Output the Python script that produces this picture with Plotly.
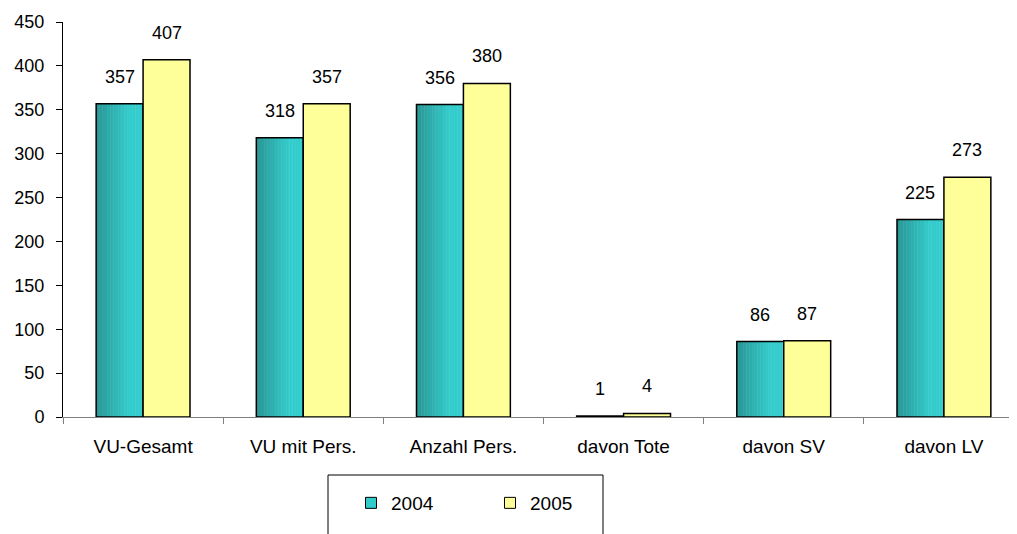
import plotly.graph_objects as go

categories = ["VU-Gesamt", "VU mit Pers.", "Anzahl Pers.", "davon Tote", "davon SV", "davon LV"]
values_2004 = [357, 318, 356, 1, 86, 225]
values_2005 = [407, 357, 380, 4, 87, 273]
y_ticks = [0, 50, 100, 150, 200, 250, 300, 350, 400, 450]

FONT = "Liberation Sans, Arial, sans-serif"
BAR_W = 0.293
YELLOW = "#ffff99"
TEAL = "#33cccc"

# page has an 8px body margin, so figure coords = page coords - 8
PAGE_OFF = 8
W, H = 1017, 534
L, R, T, B = 55, 1, 14, 125
PW = W - L - R
PH = H - T - B


def px_x(p):
    return (p - PAGE_OFF - L) / PW


def px_y(p):
    return (H - B - (p - PAGE_OFF)) / PH


def teal_shade(t):
    # horizontal gradient: darker on the left, light teal on the right
    t = min(t / 0.7, 1.0)
    c0, c1 = (40, 150, 148), (52, 204, 204)
    r, g, b = (round(a + (b_ - a) * t) for a, b_ in zip(c0, c1))
    return f"rgb({r},{g},{b})"


fig = go.Figure()

# 2004 bars drawn as thin slices to mimic the gradient fill
n_slices = 30
for k in range(n_slices):
    fig.add_trace(go.Bar(
        x=categories, y=values_2004,
        width=BAR_W / n_slices + 0.003,
        offset=-BAR_W + k * BAR_W / n_slices,
        marker=dict(color=teal_shade((k + 0.5) / n_slices), line=dict(width=0)),
        showlegend=False, hoverinfo="skip",
    ))
# outline of 2004 bars
fig.add_trace(go.Bar(
    x=categories, y=values_2004, width=BAR_W, offset=-BAR_W,
    marker=dict(color="rgba(0,0,0,0)", line=dict(color="black", width=1.5)),
    showlegend=False, name="2004",
))
fig.add_trace(go.Bar(
    x=categories, y=values_2005, width=BAR_W, offset=0,
    marker=dict(color=YELLOW, line=dict(color="black", width=1.5)),
    showlegend=False, name="2005",
))

# legend entries
for name, color in [("2004", TEAL), ("2005", YELLOW)]:
    fig.add_trace(go.Scatter(
        x=[None], y=[None], mode="markers", name=name,
        marker=dict(symbol="square", size=11, color=color,
                    line=dict(color="black", width=1)),
    ))

# value labels
for i, (a, b) in enumerate(zip(values_2004, values_2005)):
    for val, off in [(a, -BAR_W / 2), (b, BAR_W / 2)]:
        fig.add_annotation(
            x=i + off, y=val, text=str(val), showarrow=False,
            yanchor="middle", yshift=27,
            font=dict(family=FONT, size=18, color="black"),
        )

# legend frame
fig.add_shape(
    type="rect", xref="paper", yref="paper",
    x0=px_x(328), x1=px_x(603), y0=px_y(475), y1=px_y(570),
    line=dict(color="black", width=1), fillcolor="rgba(0,0,0,0)",
)

fig.update_layout(
    width=W, height=H,
    margin=dict(l=L, r=R, t=T, b=B, autoexpand=False),
    paper_bgcolor="white", plot_bgcolor="white",
    barmode="overlay",
    font=dict(family=FONT, size=18, color="black"),
    showlegend=True,
    legend=dict(
        orientation="h", x=px_x(351), y=px_y(503),
        xanchor="left", yanchor="middle",
        entrywidth=94, entrywidthmode="pixels",
        font=dict(family=FONT, size=19, color="black"),
        bgcolor="rgba(0,0,0,0)",
    ),
    xaxis=dict(
        type="category", range=[-0.5, 5.5],
        showline=True, linecolor="#808080", linewidth=1,
        ticks="outside", tickson="boundaries", ticklen=6, tickcolor="#808080",
        ticklabelstandoff=12,
        showgrid=False, zeroline=False,
        tickfont=dict(family=FONT, size=19, color="black"),
    ),
    yaxis=dict(
        range=[0, 450], tickvals=y_ticks,
        showline=True, linecolor="black", linewidth=1,
        ticks="outside", ticklen=6, tickcolor="black",
        ticklabelstandoff=8,
        showgrid=False, zeroline=False,
        tickfont=dict(family=FONT, size=18, color="black"),
    ),
)

fig.write_html("out.html")
